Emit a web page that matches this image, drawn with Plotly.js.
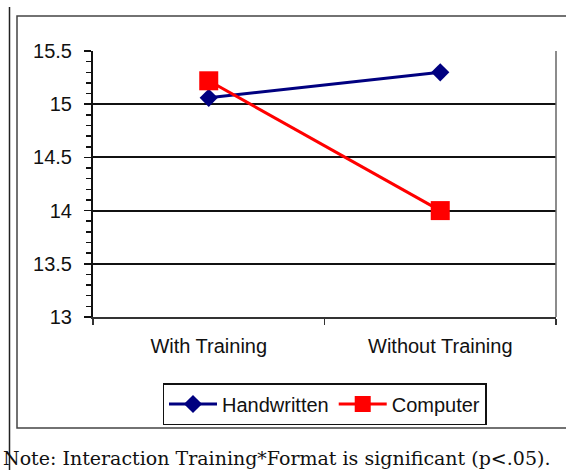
<!DOCTYPE html>
<html>
<head>
<meta charset="utf-8">
<script src="https://cdn.plot.ly/plotly-3.0.1.min.js"></script>
<style>html,body{margin:0;padding:0;background:#fff;}#chart{width:566px;height:470px;}</style>
</head>
<body>
<div id="chart"></div>
<script>
const categories = ["With Training", "Without Training"];
const handwritten = [15.06, 15.30];
const computer = [15.22, 14.00];
const seriesNames = ["Handwritten", "Computer"];
const noteText = "Note: Interaction Training*Format is significant (p<.05).";

const W = 566, H = 470;
const M = {l: 93, r: 10, t: 51, b: 153};
const pw = W - M.l - M.r, ph = H - M.t - M.b;
const px = v => (v - M.l) / pw;
const py = v => (H - M.b - v) / ph;

const sans = "Liberation Sans, Arial, sans-serif";

const traces = [
  {x: categories, y: handwritten, name: seriesNames[0], type: "scatter", mode: "lines+markers",
   line: {color: "#000080", width: 3}, marker: {symbol: "diamond", size: 14, color: "#000080"}},
  {x: categories, y: computer, name: seriesNames[1], type: "scatter", mode: "lines+markers",
   line: {color: "#FF0000", width: 3}, marker: {symbol: "square", size: 19, color: "#FF0000"}}
];

const layout = {
  width: W, height: H,
  margin: M,
  paper_bgcolor: "#fff", plot_bgcolor: "#fff",
  showlegend: true,
  font: {family: sans, size: 20, color: "#111"},
  xaxis: {type: "category", tickson: "boundaries", ticks: "outside", ticklen: 6, tickwidth: 1.5, tickcolor: "#333",
          showline: true, linecolor: "#333", linewidth: 2, mirror: false, showgrid: false, zeroline: false,
          ticklabelstandoff: 10, tickfont: {family: sans, size: 20, color: "#111"}, range: [-0.5, 1.5], fixedrange: true},
  xaxis2: {overlaying: "x", anchor: "y", range: [-0.5, 1.5], tickvals: [0, 1], showticklabels: false,
           ticks: "outside", ticklen: 5, tickwidth: 1.5, tickcolor: "#333", showgrid: false, zeroline: false, showline: false},
  yaxis: {range: [13, 15.5], dtick: 0.5, tick0: 13, ticks: "outside", ticklen: 7, tickwidth: 1.5, tickcolor: "#111",
          showline: true, linecolor: "#111", linewidth: 2, showgrid: true, gridcolor: "#111", gridwidth: 2,
          zeroline: false, ticklabelstandoff: 8, tickfont: {family: sans, size: 20, color: "#111"},
          minor: {dtick: 0.1, ticks: "outside", ticklen: 5, tickwidth: 1.5, tickcolor: "#111", showgrid: false}},
  legend: {orientation: "h", x: 0.5, xanchor: "center", y: py(383), yanchor: "top",
           bordercolor: "#111", borderwidth: 1.5, bgcolor: "#fff", font: {family: sans, size: 20, color: "#111"},
           itemwidth: 48, traceorder: "normal"},
  shapes: [
    {type: "line", xref: "paper", yref: "paper", x0: px(9.5), x1: px(9.5), y0: py(7), y1: py(475), line: {color: "#222", width: 1.5}},
    {type: "rect", xref: "paper", yref: "paper", x0: px(17), x1: px(600), y0: py(428), y1: py(16), line: {color: "#444", width: 1.5}},
    {type: "line", xref: "paper", yref: "paper", x0: 1, x1: 1, y0: 0, y1: 1, line: {color: "#666", width: 1.5}}
  ],
  annotations: [
    {text: noteText, xref: "paper", yref: "paper", x: px(1), y: py(458), xanchor: "left", yanchor: "middle",
     showarrow: false, font: {family: "DejaVu Serif, serif", size: 19, color: "#111"}}
  ]
};

Plotly.newPlot("chart", traces, layout, {staticPlot: true, displayModeBar: false});
</script>
</body>
</html>
